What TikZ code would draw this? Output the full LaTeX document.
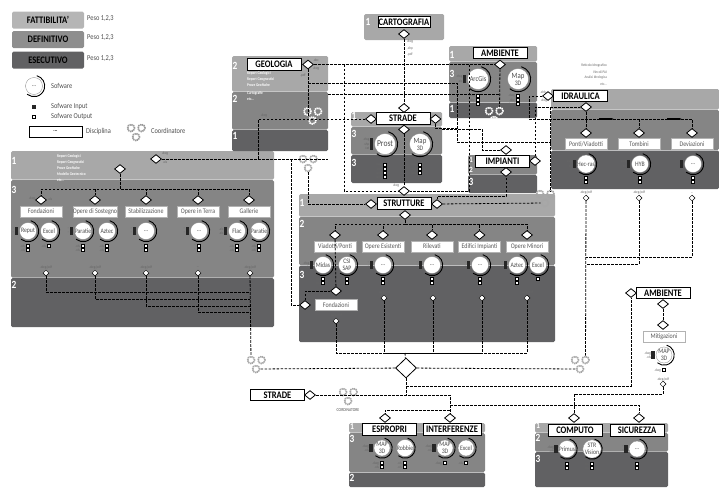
\documentclass[tikz,border=0pt]{standalone}
\usepackage{fontspec}
\setmainfont[FakeStretch=0.85]{Carlito}
\usepackage{tikz}
\usetikzlibrary{arrows.meta,positioning,calc,shapes.geometric}

\definecolor{panelA}{HTML}{A8A8A8}
\definecolor{panelB}{HTML}{858585}
\definecolor{panelC}{HTML}{616163}
\definecolor{lvlA}{HTML}{B5B5B5}
\definecolor{lvlB}{HTML}{8E8E8E}

\def\swr{8.5}
\def\swp{15}
\def\trep{...}
% cerchio software con barra di input e porte di output
\newcommand{\soft}[6]{%
  \pgfmathsetmacro\swa{\swr+2.2}
  \node[swnode,minimum size=2*\swr pt] (#1) at (#2,#3) {#4};
  \draw[swarc] (#1.center) ++(-75:\swa) arc (-75:130:\swa);
  \gdef\nin{0}
  \foreach \lb [count=\cnt] in {#5} {\xdef\nin{\cnt}}
  \foreach \lb [count=\cnt] in {#5} {
    \node[swin] (#1i\cnt) at (#2-\swr-3,#3+4*\cnt-2-2*\nin) {};
    \node[ext,anchor=east] (#1il\cnt) at (#2-\swr-5,#3+4*\cnt-2-2*\nin) {\lb};
  }
  \foreach \lb [count=\cnt] in {#6} {
    \node[swout] (#1o\cnt) at (#2,#3+\swp+4*\cnt-4) {};
    \node[ext,anchor=east] (#1ol\cnt) at (#2-3,#3+\swp+4*\cnt-4) {\lb};
  }
}
% tre ingranaggi del coordinatore
\newcommand{\gearset}[4]{%
  \node[gearn,draw=#4] (#1a) at (#2-5,#3-9) {};
  \node[gearn,draw=#4] (#1b) at (#2+5.5,#3-9) {};
  \node[gearn,draw=#4] (#1c) at (#2,#3) {};
}

\begin{document}
\begin{tikzpicture}[
    x=1pt, y=-1pt,
    bandA/.style={fill=panelA, rounded corners=1.5pt},
    bandB/.style={fill=panelB, rounded corners=1.5pt},
    bandC/.style={fill=panelC, rounded corners=1.5pt},
    lvl/.style={rounded corners=1.5pt, minimum width=72pt, minimum height=17pt, inner sep=0pt, font=\bfseries\fontsize{10}{10}\selectfont},
    ttl/.style={draw, line width=0.9pt, fill=white, inner sep=0pt, minimum width=54pt, minimum height=11.5pt, font=\bfseries\fontsize{10}{10}\selectfont},
    dbox/.style={draw=gray!60, line width=0.5pt, fill=white, text=black!65, inner sep=0pt, minimum width=42pt, minimum height=11pt, font=\fontsize{7}{7}\selectfont},
    dia/.style={diamond, draw, line width=0.8pt, fill=white, inner sep=0pt, minimum width=11pt, minimum height=9pt},
    dot/.style={diamond, draw, line width=0.5pt, fill=white, inner sep=0pt, minimum width=6pt, minimum height=6pt},
    bigdia/.style={diamond, draw, line width=0.8pt, fill=white, inner sep=0pt, minimum width=21pt, minimum height=20pt},
    link/.style={line width=0.8pt, dash pattern=on 2.6pt off 1.4pt},
    swnode/.style={circle, draw=gray, line width=0.3pt, fill=white, inner sep=0pt, align=center, text=black!70, font=\fontsize{6.8}{7}\selectfont},
    swarc/.style={line width=0.9pt},
    swin/.style={fill=black!85, inner sep=0pt, minimum width=3.5pt, minimum height=4pt},
    swout/.style={draw, line width=0.6pt, fill=white, inner sep=0pt, minimum size=3pt},
    gearn/.style={circle, line width=1.8pt, inner sep=0pt, minimum size=7pt, dash pattern=on 1pt off 0.9pt, postaction={draw,solid,line width=0.4pt}},
    ext/.style={inner sep=0pt, text=black!60, font=\fontsize{3.8}{4}\selectfont},
    extw/.style={inner sep=0pt, anchor=west, text=white, font=\bfseries\fontsize{4}{4}\selectfont},
    note/.style={inner sep=0pt, anchor=west, text=black!70, font=\fontsize{7.5}{8}\selectfont},
    num/.style={inner sep=0pt, text=white, font=\bfseries\fontsize{11}{11}\selectfont}
  ]
  \useasboundingbox (0,0) rectangle (719,488);

  % legenda
  \node[lvl, fill=lvlA] (fatt) at (48,20) {FATTIBILITA'};
  \node[lvl, fill=lvlB] (defi) at (48,39.5) {DEFINITIVO};
  \node[lvl, fill=panelC] (esec) at (48,60) {ESECUTIVO};
  \node[note] (pfatt) at (87,19) {Peso 1,2,3};
  \node[note] (pdefi) at (87,38) {Peso 1,2,3};
  \node[note] (pesec) at (87,59) {Peso 1,2,3};
  \soft{legsw}{34}{86}{...}{}{}
  \node[note] (tsw) at (51,86) {Sofware};
  \node[swin, minimum height=3.5pt] (legin) at (34,107) {};
  \node[swout] (legout) at (34,117) {};
  \node[note] (tin) at (51,107) {Sofware Input};
  \node[note] (tout) at (51,117) {Sofware Output};
  \node[draw, fill=white, inner sep=0pt, minimum width=53pt, minimum height=11pt, font=\bfseries\fontsize{6}{7}\selectfont] (legdisc) at (55.5,131.5) {...};
  \node[note] (tdisc) at (86,131) {Disciplina};
  \gearset{legg}{136}{137}{gray!80}
  \node[note] (tcoord) at (151,131) {Coordinatore};

  % pannelli
  \fill[bandA] (11,151) rectangle (274,179.5);
  \fill[bandB] (11,180) rectangle (274,277.5);
  \fill[bandC] (11,278) rectangle (274,327);
  \fill[bandA] (232,56) rectangle (328,91.5);
  \fill[bandB] (232,92) rectangle (328,129.5);
  \fill[bandC] (232,130) rectangle (328,151);
  \fill[bandA] (364,14) rectangle (444,40);
  \fill[bandA] (351,112) rectangle (442,126.5);
  \fill[bandB] (351,127) rectangle (442,154.5);
  \fill[bandC] (351,155) rectangle (442,183);
  \fill[bandA] (449,46) rectangle (537,61.5);
  \fill[bandB] (449,62) rectangle (537,102);
  \fill[bandC] (449,102.5) rectangle (537,118);
  \fill[bandA] (551,89) rectangle (719,109.5);
  \fill[bandB] (551,110) rectangle (719,150);
  \fill[bandC] (551,150.5) rectangle (719,189);
  \fill[bandB] (468,155) rectangle (537,174.5);
  \fill[bandC] (468,175) rectangle (537,193);
  \fill[bandA] (299,194) rectangle (555,216.5);
  \fill[bandB] (299,217) rectangle (555,265);
  \fill[bandC] (299,265.5) rectangle (555,342);
  \fill[bandA] (349,423) rectangle (485,432.5);
  \fill[bandB] (349,433) rectangle (485,472);
  \fill[bandC] (349,472.5) rectangle (485,487);
  \fill[bandA] (535,423) rectangle (668,432.5);
  \fill[bandB] (535,433) rectangle (668,451.5);
  \fill[bandC] (535,452) rectangle (668,487);

  % numeri dei pannelli
  \node[num] (n1) at (14,161) {1};
  \node[num] (n2) at (14,190) {3};
  \node[num] (n3) at (14,285) {2};
  \node[num] (n4) at (235,66) {2};
  \node[num] (n5) at (235,99) {2};
  \node[num] (n6) at (235,136) {1};
  \node[num] (n7) at (368,22) {1};
  \node[num] (n8) at (354,116) {1};
  \node[num] (n9) at (354,134) {3};
  \node[num] (n10) at (354,163) {3};
  \node[num] (n11) at (452,55) {1};
  \node[num] (n12) at (452,74) {3};
  \node[num] (n13) at (452,109) {1};
  \node[num, font=\bfseries\fontsize{8}{8}\selectfont] (n14) at (471,159.5) {1};
  \node[num, font=\bfseries\fontsize{8}{8}\selectfont] (n15) at (471,169.5) {2};
  \node[num] (n16) at (471,182) {3};
  \node[num] (n17) at (302,203) {1};
  \node[num] (n18) at (302,224) {2};
  \node[num] (n19) at (302,275) {3};
  \node[num, font=\bfseries\fontsize{9}{9}\selectfont] (n20) at (352,427) {1};
  \node[num] (n21) at (352,439) {3};
  \node[num] (n22) at (352,478) {2};
  \node[num, font=\bfseries\fontsize{9}{9}\selectfont] (n23) at (538,426) {1};
  \node[num] (n24) at (538,438) {2};
  \node[num] (n25) at (538,459) {3};

  % titoli
  \node[ttl] (geo) at (274,64.5) {GEOLOGIA};
  \node[ttl, minimum width=52pt] (carto) at (404,22) {CARTOGRAFIA};
  \node[ttl] (strade) at (403,118.5) {STRADE};
  \node[ttl] (amb) at (500,53) {AMBIENTE};
  \node[ttl] (idr) at (580.5,96) {IDRAULICA};
  \node[ttl] (imp) at (502.5,161.5) {IMPIANTI};
  \node[ttl] (strut) at (404,203.5) {STRUTTURE};
  \node[ttl] (stradeF) at (277.5,395) {STRADE};
  \node[ttl] (ambF) at (663,293) {AMBIENTE};
  \node[ttl, minimum height=12pt] (espro) at (389.5,429) {ESPROPRI};
  \node[ttl, minimum width=58pt, minimum height=12pt] (inter) at (452,429) {INTERFERENZE};
  \node[ttl, minimum height=12pt] (compu) at (575,430) {COMPUTO};
  \node[ttl, minimum height=12pt] (sicur) at (637,430) {SICUREZZA};

  % testi nei pannelli
  \foreach \t [count=\i] in {Report Geologici,Report Geognostici,Prove Geofische,Modello Geotecnico,etc\trep}
    \node[extw] (lt\i) at (57,150+6*\i) {\t};
  \foreach \t [count=\i] in {Report Geologici,Report Geognostici,Prove Geofische}
    \node[extw] (gt\i) at (247,67+6*\i) {\t};
  \node[extw] (gt4) at (247,93) {Cartografie};
  \node[extw] (gt5) at (247,99) {etc...};
  \foreach \t [count=\i] in {Reticolo Idrografico,Vincoli PAI,Analisi Idrologica,etc\trep}
    \node[ext, anchor=east] (it\i) at (607,60+6*\i) {\t};
  \foreach \t [count=\i] in {.dwg,.shp,.pdf}
    \node[ext] (ct\i) at (410,36+6*\i) {\t};
  \node[ext] (g1) at (316,60) {.doc};
  \node[ext] (g2) at (316,69) {.dwg};
  \node[ext] (g3) at (303,75) {.pdf};
  \node[ext] (g4) at (264,116) {.dwg};
  \node[ext] (s1) at (396,186) {.dwg};
  \node[ext] (l1) at (165,154) {.dwg};
  \node[ext] (l2) at (165,162) {.xls};
  \node[ext] (l3) at (32,199) {.dwg};
  \node[ext] (l4) at (50,199) {.xls};
  \node[ext] (d1) at (543,92) {.shb};
  \node[ext] (d2) at (544,101) {.dwg};
  \node[note, anchor=center, font=\fontsize{4.5}{5}\selectfont] (tc) at (348,410) {CORDINATORE};

  % diamanti
  \node[dia] (geoD) at (308,64.5) {};
  \node[dia] (cartD) at (404,34) {};
  \node[dia] (strT) at (404,108) {};
  \node[dia] (strL) at (371,119) {};
  \node[dia] (strR) at (435.5,119) {};
  \node[dia] (strI) at (404,129.5) {};
  \node[dia] (strB) at (404,191) {};
  \node[dia] (ambD) at (500,64.5) {};
  \node[dia] (idrL) at (548,96) {};
  \node[dia] (idrI) at (586,107) {};
  \node[dia] (impT) at (506,150) {};
  \node[dia] (impR) at (535,161) {};
  \node[dia] (impI) at (506,172) {};
  \node[dia] (sttL) at (371,204) {};
  \node[dia] (sttR) at (437,204) {};
  \node[dia] (sttI) at (405,215) {};
  \node[dia] (fonT) at (336,291) {};
  \node[dia] (fonL) at (305,305) {};
  \node[dia] (lefD) at (156,159) {};
  \node[dia] (lefI) at (120,169) {};
  \node[bigdia] (mainD) at (406,368) {};
  \node[dia] (stradeD) at (310,395) {};
  \node[dia] (espD) at (385,418) {};
  \node[dia] (intD) at (450,418) {};
  \node[dia] (cmpD) at (574,418) {};
  \node[dia] (sicD) at (639,418) {};
  \node[dia] (ambL) at (631,293) {};
  \node[dia] (ambB) at (663,304) {};
  \node[dia] (mitT) at (663,325) {};
  \node[dot] (mitB) at (663,384) {};
  \node[ext] (mitL) at (663,379) {.dwg/pdf};

  % discipline del pannello a sinistra
  \foreach \x/\w [count=\i] in {41/Fondazioni,95/Opere di Sostegno,146/Stabilizzazione,198/Opere in Terra,249/Gallerie} {
    \node[dia] (lv\i) at (\x,200) {};
    \node[dbox] (ld\i) at (\x,211.5) {\w};
  }
  \foreach \x/\t [count=\i] in {46/{.dwg/pdf},95/{.dwg/pdf},146/{.dwg/pdf},198/\trep,250/{.dwg/pdf}} {
    \node[dot] (lo\i) at (\x,273) {};
    \node[ext] (lol\i) at (\x,267) {\t};
  }
  \soft{reput}{28}{231}{Reput}{--,--}{.xls,.xls}
  \soft{excelL}{49}{231}{Excel}{}{.xls}
  \soft{paraA}{83}{231}{Paratie}{--,--}{.xls,.xls}
  \soft{aztecL}{107}{231}{Aztec}{}{.xls,.xls}
  \soft{leftA}{146}{231}{...}{--,--}{--,--}
  \soft{leftB}{199}{231}{...}{--,--}{--,--}
  \soft{flac}{237}{231}{Flac}{.xls,.xls}{.xls,.xls}
  \soft{paraB}{259}{231}{Paratie}{}{.xls,.xls}

  % strade e ambiente
  \def\swr{10.5}
  \def\swp{21}
  \soft{prost}{385}{144}{\fontsize{9}{9}\selectfont Prost}{.dwg,.shp,.txt}{.dwg,.doc,.land,.land}
  \soft{mapS}{420}{144}{\fontsize{8}{8.5}\selectfont Map\\3D}{}{.dwg,.doc,.land}
  \def\swp{17}
  \soft{arcg}{478}{79}{\fontsize{7.5}{8}\selectfont ArcGis}{.dwg,.xls}{.dwg,.doc,.xls}
  \soft{mapA}{518}{79}{\fontsize{8}{8.5}\selectfont Map\\3D}{}{.dwg,.doc,.land}
  \def\swr{8.5}

  % idraulica
  \foreach \x/\w [count=\i] in {586/{Ponti/Viadotti},639/Tombini,692/Deviazioni} {
    \node[dia] (hv\i) at (\x,133) {};
    \node[dbox] (hd\i) at (\x,144) {\w};
  }
  \foreach \x/\t [count=\i] in {586/{.dwg/pdf},639/{.dwg/pdf},692/\trep} {
    \node[dot] (ho\i) at (\x,198) {};
    \node[ext] (hol\i) at (\x,193) {\t};
  }
  \def\swp{14}
  \soft{hec}{586}{164}{Hec-ras}{.dwg,.xls}{.txt,.xls}
  \soft{hyb}{640}{164}{HYB}{.dwg,.xls}{.txt,.xls}
  \soft{dev}{693}{164}{...}{--,--}{--,--}

  % strutture
  \foreach \x/\w [count=\i] in {335/{Viadotti/Ponti},383/Opere Esistenti,432/Rilevati,479.5/Edifici Impianti,527/Opere Minori} {
    \node[dia] (sv\i) at (\x,235) {};
    \node[dbox] (sd\i) at (\x,246.5) {\w};
  }
  \node[dbox] (fond) at (336,305) {Fondazioni};
  \node[dot] (fonB) at (336,321) {};
  \node[ext] (fonX) at (336,315) {.dwg/pdf};
  \foreach \x/\t [count=\i] in {384/{.dwg/pdf},433/{},482/\trep,527/{.dwg/pdf}} {
    \node[dot] (so\i) at (\x,298) {};
    \node[ext] (sol\i) at (\x,292) {\t};
  }
  \soft{midas}{323}{265}{Midas}{.dwg,.xls}{.xls,.xls}
  \soft{csi}{347}{265}{CSI\\SAP}{}{.xls,.xls}
  \soft{strA}{383}{265}{...}{--,--}{--,--}
  \soft{strB2}{432}{265}{...}{--,--}{--,--}
  \soft{strC}{480}{265}{...}{--,--}{--,--}
  \soft{aztecS}{517}{265}{Aztec}{--,--}{--,--}
  \soft{excelS}{538}{265}{Excel}{}{.xls}

  % espropri, computo, ambiente
  \def\swr{8}
  \def\swp{15}
  \soft{mapE}{382}{448}{MAP\\3D}{.dwg,.xls}{.dwg,.xls}
  \soft{robb}{405}{448}{Robbie}{}{.xls,.xls}
  \soft{mapI}{445}{448}{MAP\\3D}{.dwg,.xls}{.dwg}
  \soft{excelI}{466}{448}{Excel}{}{.xls}
  \soft{prim}{567}{449}{Primus}{.dwg,.xls}{.xls,.xls}
  \soft{strv}{592}{449}{STR\\Vision}{}{.xls,.xls}
  \soft{sicu}{637}{449}{...}{--,--}{--,--}
  \node[dbox] (mitig) at (664,336.5) {Mitigazioni};
  \soft{mapM}{664}{355}{MAP\\3D}{.dwg,.xls}{.dwg}

  % ingranaggi
  \gearset{geoG}{312.5}{120.5}{white}
  \gearset{ambG}{494}{120}{white}
  \gearset{lefG}{308}{168}{gray!70}
  \gearset{ideG}{545}{203}{gray!70}
  \gearset{botL}{256}{369}{gray!70}
  \gearset{botR}{580}{369}{gray!70}
  \gearset{strG}{348}{401}{gray!70}

  % punti di giunzione
  \coordinate (jA) at (344,64.5);
  \coordinate (jB) at (469,64.5);
  \coordinate (jC) at (308,83);
  \coordinate (jD) at (457,83);
  \coordinate (jE) at (551,142);
  \coordinate (jF) at (328,94);
  \coordinate (jG) at (500,94);
  \coordinate (jH) at (258,159);
  \coordinate (jI) at (291,159);
  \coordinate (jJ) at (328,159);
  \coordinate (jK) at (457,128);
  \coordinate (jL) at (442,129);
  \coordinate (jM) at (550,107);
  \coordinate (jN) at (550,192);
  \coordinate (jO) at (405,353);
  \coordinate (jP) at (250,292);
  \coordinate (jQ) at (250,299);
  \coordinate (jR) at (250,306);
  \coordinate (jS) at (250,312);
  \coordinate (jT) at (586,257);
  \coordinate (jU) at (586,264);
  \coordinate (jV) at (406,386);
  \coordinate (jW) at (406,395);
  \coordinate (jX) at (450,405);
  \coordinate (jY) at (450,410);
  \coordinate (jZ) at (308,117);

  % collegamenti
  \draw[link] (cartD) -- (strT);
  \draw[link] (geoD) -- (ambD);
  \draw[link] (jA) |- (strB);
  \draw[link] (jB) |- (strB);
  \draw[link] (geoD) -- (jZ);
  \draw[link] (jC) -- (jD) |- (jE);
  \draw[link] (jF) -- (jG);
  \draw[link] (ambD) -- (ambGb);
  \draw[link] (strL) -| (jH);
  \draw[link] (lefD) -- (jJ);
  \draw[link] (jI) |- (fonL);
  \draw[link] (lefGc) |- (sttL);
  \draw[link] (strI) -- (strB);
  \draw[link] (strR) |- (jK);
  \draw[link] (jL) -- (482,129) -- (482,150) -- (impT);
  \draw[link] (impR) |- (idrI);
  \draw[link] (idrL) -- (529,96) -- (529,119) -| (hv3);
  \draw[link] (idrI) -- (hv1);
  \draw[link] (639,119) -- (hv2);
  \draw[-{Latex[length=2.5pt]}, line width=1.4pt] (599,119) -- (614,119);
  \draw[-{Latex[length=2.5pt]}, line width=1.4pt] (667,119) -- (682,119);
  \draw[link] (jM) -- (jN);
  \draw[link] (sttR) -- (ideGc);
  \draw[link] (sttR) -- (437,196) -| (impI);
  \foreach \i in {1,...,5} {
    \draw[link] (sttI) -- (405,224) -| (sv\i);
    \draw[link] (lefI) -- (120,189) -| (lv\i);
  }
  \draw[link] (sv1) -- (fonT);
  \draw[link] (fonL) |- (fonT);
  \draw[link] (fonB) |- (jO);
  \foreach \i in {1,...,4}
    \draw[link] (so\i) |- (jO);
  \draw[link] (jO) -- (mainD);
  \draw[link] (lo1) |- (jP);
  \draw[link] (lo2) |- (jQ);
  \draw[link] (lo3) |- (jR);
  \draw[link] (lo4) |- (jS);
  \draw[link] (lo5) -- (botLa);
  \draw[link] (mainD) -- (botLc);
  \draw[link] (mainD) -- (botRc);
  \draw[link] (ho1) -- (botRb);
  \draw[link] (ho2) |- (jU);
  \draw[link] (ho3) |- (jT);
  \draw[link] (mainD) -- (jW);
  \draw[link] (jV) -| (ambL);
  \draw[link] (stradeD) -| (intD);
  \draw[link] (jX) -| (sicD);
  \draw[link] (jY) -| (espD);
  \draw[link] (ambB) -- (mitT);
  \draw[link] (mitB) -- (663,394) -| (cmpD);
\end{tikzpicture}
\end{document}
